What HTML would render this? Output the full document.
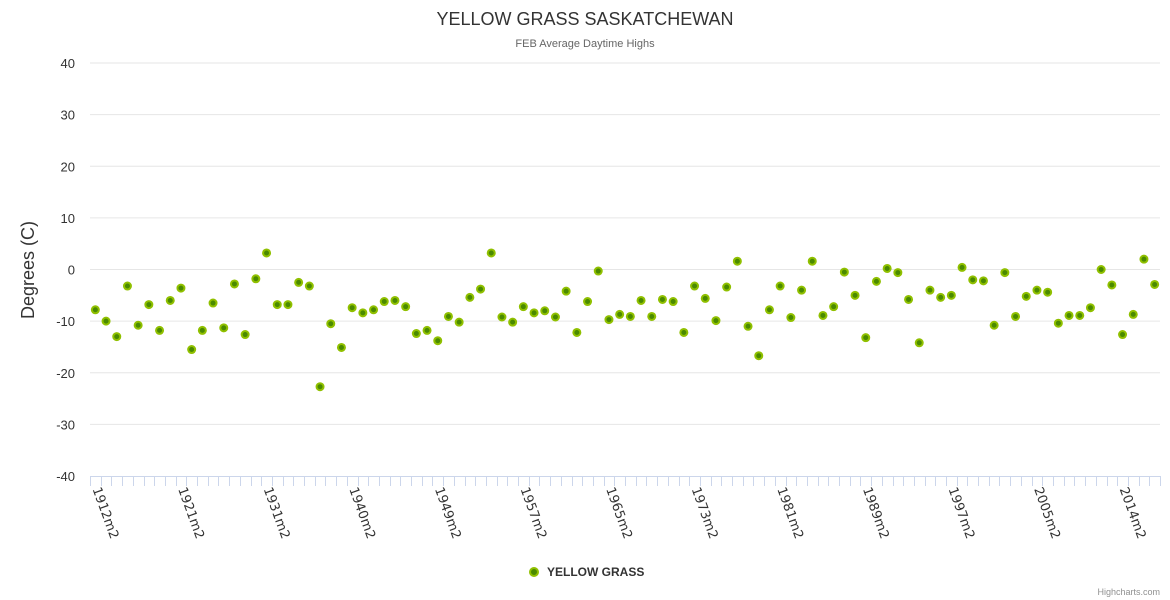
<!DOCTYPE html>
<html><head><meta charset="utf-8"><style>
body{margin:0;background:#fff;}
svg{display:block;font-family:"Liberation Sans",sans-serif;}
</style></head><body>
<svg id="chart" width="1170" height="600">
<text x="585" y="25" text-anchor="middle" font-size="18" fill="#333">YELLOW GRASS SASKATCHEWAN</text>
<text x="585" y="47" text-anchor="middle" font-size="11" fill="#666">FEB Average Daytime Highs</text>
<text transform="translate(34,270) rotate(-90)" text-anchor="middle" font-size="18" fill="#333">Degrees (C)</text>
<g id="grid"></g><g id="xaxis"></g><g id="points"></g>
<g>
<circle cx="534" cy="572" r="4" fill="#4a8a00" stroke="#90c000" stroke-width="2"></circle>
<text x="547" y="576" font-size="12" font-weight="bold" fill="#333">YELLOW GRASS</text>
</g>
<text x="1160" y="595" text-anchor="end" font-size="9" fill="#909090">Highcharts.com</text>
</svg>
<script>
const yTicks=[-40,-30,-20,-10,0,10,20,30,40];
const years=[1912,1913,1914,1915,1916,1917,1918,1920,1921,1922,1923,1924,1925,1926,1927,1929,1931,1932,1933,1934,1935,1936,1937,1938,1940,1941,1942,1943,1944,1945,1946,1948,1949,1950,1951,1952,1953,1954,1955,1956,1957,1958,1959,1960,1961,1962,1963,1964,1965,1966,1967,1968,1969,1970,1971,1972,1973,1974,1975,1976,1977,1978,1979,1980,1981,1982,1983,1984,1985,1986,1987,1988,1989,1990,1991,1992,1993,1994,1995,1996,1997,1998,1999,2000,2001,2002,2003,2004,2005,2006,2007,2008,2009,2010,2011,2012,2014,2015,2016,2017];
const categories=years.map(y=>y+"m2");
const values=[-7.8,-10,-13,-3.2,-10.8,-6.8,-11.8,-6,-3.6,-15.5,-11.8,-6.5,-11.3,-2.8,-12.6,-1.8,3.2,-6.8,-6.8,-2.5,-3.2,-22.7,-10.5,-15.1,-7.4,-8.4,-7.8,-6.2,-6,-7.2,-12.4,-11.8,-13.8,-9.1,-10.2,-5.4,-3.8,3.2,-9.2,-10.2,-7.2,-8.4,-8,-9.2,-4.2,-12.2,-6.2,-0.3,-9.7,-8.7,-9.1,-6,-9.1,-5.8,-6.2,-12.2,-3.2,-5.6,-9.9,-3.4,1.6,-11,-16.7,-7.8,-3.2,-9.3,-4,1.6,-8.9,-7.2,-0.5,-5,-13.2,-2.3,0.2,-0.6,-5.8,-14.2,-4,-5.4,-5,0.4,-2,-2.2,-10.8,-0.6,-9.1,-5.2,-4,-4.4,-10.4,-8.9,-8.9,-7.4,0,-3,-12.6,-8.7,2,-2.9];
const NS="http://www.w3.org/2000/svg";
const L=90,R=1160,T=63,B=476;
const yS=v=>B-(v+40)/80*(B-T);
const bw=(R-L)/categories.length;
const xS=i=>L+(i+0.5)*bw;
function mk(t,a,p){const e=document.createElementNS(NS,t);for(const k in a)e.setAttribute(k,a[k]);p.appendChild(e);return e;}
const grid=document.getElementById('grid');
yTicks.forEach(v=>{
 if(v>-40){const l=mk('line',{x1:L,x2:R,y1:yS(v),y2:yS(v),stroke:'#e6e6e6'},grid);
 
 }
 const t=mk('text',{x:75,y:yS(v)+5,'text-anchor':'end','font-size':13,fill:'#333'},grid);
 t.textContent=v;
 
 
});
const xa=document.getElementById('xaxis');
const al=mk('line',{x1:L,x2:R,y1:B+0.5,y2:B+0.5,stroke:'#ccd6eb'},xa);


for(let i=0;i<=categories.length;i++){
 const x=Math.round(L+i*bw)+0.5;
 const tk=mk('line',{x1:x,x2:x,y1:B,y2:B+10,stroke:'#ccd6eb'},xa);
 
 
}
categories.forEach((c,i)=>{
 if(i%8!==0)return;
 const x=xS(i)-3,y=489;
 const t=mk('text',{x:x,y:y,'font-size':13,'font-family':'DejaVu Sans, sans-serif',fill:'#333',transform:`rotate(70 ${x} ${y})`},xa);
 t.textContent=c;
 
 
});
const pg=document.getElementById('points');
values.forEach((v,i)=>{
 const c=mk('circle',{cx:xS(i),cy:yS(v),r:3.5,fill:'#4a8a00',stroke:'#90c000','stroke-width':2},pg);
 
 
});
</script>
</body></html>
